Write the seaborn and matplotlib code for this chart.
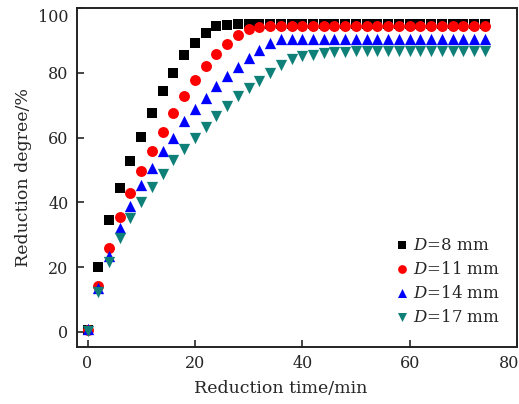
import numpy as np
import pandas as pd
import matplotlib
matplotlib.use("Agg")
import matplotlib.pyplot as plt
import matplotlib.transforms as mtransforms
import seaborn as sns

time_min = [0, 2, 4, 6, 8, 10, 12, 14, 16, 18, 20, 22, 24, 26, 28, 30, 32, 34, 36,
            38, 40, 42, 44, 46, 48, 50, 52, 54, 56, 58, 60, 62, 64, 66, 68, 70, 72, 74]

d8 = [0.5, 20.0, 34.5, 44.5, 52.8, 60.2, 67.7, 74.5, 80.0, 85.4, 89.2, 92.2, 94.6, 94.8,
      95.0, 95.0, 95.0, 95.0, 95.0, 95.0, 95.0, 95.0, 95.0, 95.0, 95.0, 95.0, 95.0, 95.0,
      95.0, 95.0, 95.0, 95.0, 95.0, 95.0, 95.0, 95.0, 95.0, 95.0]
d11 = [0.5, 14.0, 26.0, 35.3, 43.0, 49.7, 55.7, 61.8, 67.5, 72.8, 77.7, 82.0, 85.7, 88.9,
       91.7, 93.4, 94.3, 94.6, 94.6, 94.6, 94.6, 94.6, 94.6, 94.6, 94.6, 94.6, 94.6, 94.6,
       94.6, 94.6, 94.6, 94.6, 94.6, 94.6, 94.6, 94.6, 94.6, 94.6]
d14 = [0.8, 13.5, 23.3, 31.9, 38.7, 45.4, 50.5, 55.7, 59.9, 65.2, 68.7, 72.3, 75.8, 79.0,
       81.8, 84.6, 86.9, 89.2, 90.3, 90.4, 90.4, 90.4, 90.4, 90.4, 90.4, 90.4, 90.4, 90.4,
       90.4, 90.4, 90.4, 90.4, 90.4, 90.4, 90.4, 90.4, 90.4, 90.4]
d17 = [0.3, 12.2, 21.6, 29.0, 35.0, 40.2, 44.8, 48.7, 53.0, 56.4, 60.0, 63.3, 66.7, 69.8,
       72.8, 75.4, 77.4, 80.0, 82.5, 84.4, 85.2, 85.6, 86.0, 86.3, 86.4, 86.7, 86.8, 86.8,
       86.8, 86.8, 86.8, 86.8, 86.8, 86.8, 86.8, 86.8, 86.8, 86.8]

series_labels = ["$D$=8 mm", "$D$=11 mm", "$D$=14 mm", "$D$=17 mm"]
series_values = [d8, d11, d14, d17]
colors = ["#000000", "#ff0000", "#0000ff", "#0f8078"]
markers = ["s", "o", "^", "v"]
sizes = [52, 62, 66, 66]

xticks = [0, 20, 40, 60, 80]
yticks = [0, 20, 40, 60, 80, 100]

sns.set_theme(style="ticks")
plt.rcParams["font.family"] = ["DejaVu Serif"]
plt.rcParams["mathtext.fontset"] = "dejavuserif"

fig = plt.figure(figsize=(5.19, 4.04), dpi=100)
ax = fig.add_axes([0.148, 0.142, 0.848, 0.838])

for lab, vals, c, m, s in zip(series_labels, series_values, colors, markers, sizes):
    df = pd.DataFrame({"t": time_min, "r": vals})
    sns.scatterplot(data=df, x="t", y="r", ax=ax, color=c, marker=m, s=s,
                    linewidth=0, label=lab)

ax.set_xlim(-2, 80)
ax.set_ylim(-4.6, 100)
ax.set_xticks(xticks)
ax.set_yticks(yticks)
ax.set_xlabel("Reduction time/min", fontsize=12.5)
ax.set_ylabel("Reduction degree/%", fontsize=12.5, labelpad=4)
ax.xaxis.set_label_coords((281 - 77) / 440, -0.098)
ax.tick_params(direction="in", length=5, width=1.2, labelsize=11.5, pad=6)
for sp in ax.spines.values():
    sp.set_linewidth(1.4)
    sp.set_color("#222222")

# nudge edge tick labels inward as in the reference
fig.canvas.draw()
xl = ax.get_xticklabels()
xl[-1].set_transform(xl[-1].get_transform() +
                     mtransforms.ScaledTranslation(-8 / 100, 0, fig.dpi_scale_trans))
yl = ax.get_yticklabels()
yl[-1].set_transform(yl[-1].get_transform() +
                     mtransforms.ScaledTranslation(0, -7 / 100, fig.dpi_scale_trans))

leg = ax.legend(loc="lower right", bbox_to_anchor=(0.985, 0.032), frameon=False,
                fontsize=12, markerscale=0.8, handletextpad=0.2, labelspacing=0.42,
                borderaxespad=0.2, handlelength=1.0)

fig.savefig("out.png", dpi=100)
